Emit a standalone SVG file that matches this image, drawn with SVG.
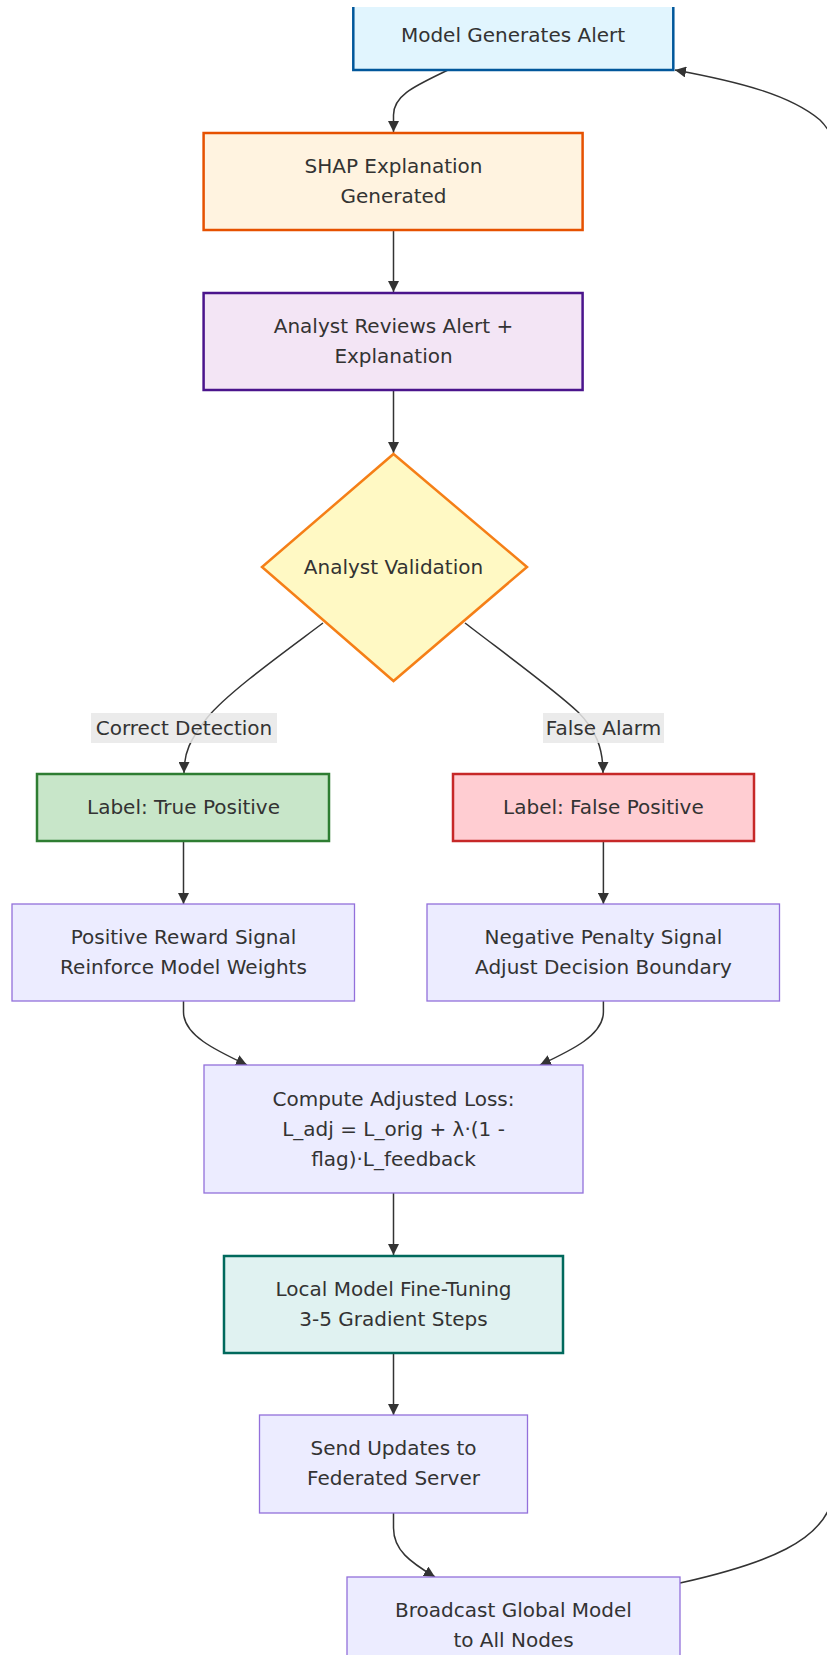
<svg xmlns="http://www.w3.org/2000/svg" width="827" height="1655" viewBox="0 0 827 1655">
<defs>
<style>
.t{font-family:"DejaVu Sans","Liberation Sans",sans-serif;font-size:20px;fill:#333333;text-anchor:middle;dominant-baseline:central}
.e{fill:none;stroke:#333333;stroke-width:1.5}
.def{fill:#ECECFF;stroke:#9370DB;stroke-width:1.3}
.lbl{fill:#E8E8E8;fill-opacity:0.85}
</style>
<marker id="arr" viewBox="0 0 10 10" refX="10" refY="5" markerWidth="11" markerHeight="11" markerUnits="userSpaceOnUse" orient="auto">
<path d="M0,0 L10,5 L0,10 z" fill="#333333"/>
</marker>
</defs>
<rect width="827" height="1655" fill="#ffffff"/>
<g id="connectors">
<path class="e" d="M448,70 C415,86 393.5,95 393.5,115 L393.5,132" marker-end="url(#arr)"/>
<path class="e" d="M393.5,230 L393.5,292" marker-end="url(#arr)"/>
<path class="e" d="M393.5,390 L393.5,453" marker-end="url(#arr)"/>
<path class="e" d="M323,623 C290,648 228,692 207,718 C190,740 184,752 184,773" marker-end="url(#arr)"/>
<path class="e" d="M465,623 C500,650 555,690 578,712 C596,730 603,748 603,773" marker-end="url(#arr)"/>
<path class="e" d="M183.5,842 L183.5,904" marker-end="url(#arr)"/>
<path class="e" d="M603.4,842 L603.4,904" marker-end="url(#arr)"/>
<path class="e" d="M183.5,1001 L183.5,1012 C183.5,1035 215,1050 247,1065" marker-end="url(#arr)"/>
<path class="e" d="M603.4,1001 L603.4,1012 C603.4,1035 572,1050 540,1065" marker-end="url(#arr)"/>
<path class="e" d="M393.5,1193 L393.5,1255" marker-end="url(#arr)"/>
<path class="e" d="M393.5,1353 L393.5,1415" marker-end="url(#arr)"/>
<path class="e" d="M393.5,1513 L393.5,1528 C393.5,1550 410,1562 435,1577" marker-end="url(#arr)"/>
<path class="e" d="M680,1583 C770,1563 822,1540 832,1500 C838,1470 840,1440 840,1400 L840,220 C840,150 835,135 820,120 C790,95 740,82 675,70" marker-end="url(#arr)"/>
<rect class="lbl" x="91" y="713" width="186" height="30"/>
<text class="t" x="184" y="728">Correct Detection</text>
<rect class="lbl" x="543" y="713" width="121" height="30"/>
<text class="t" x="603.5" y="728">False Alarm</text>
</g>
<g id="alert">
<rect x="353.3" y="7" width="320" height="63" fill="#E1F5FE"/>
<path d="M353.3,7 L353.3,70 L673.3,70 L673.3,7" fill="none" stroke="#01579B" stroke-width="2.5"/>
<text class="t" x="513" y="35">Model Generates Alert</text>
</g>
<g id="shap">
<rect x="203.6" y="133" width="379" height="97" fill="#FFF3E0" stroke="#E65100" stroke-width="2.5"/>
<text class="t" x="393.5" y="166">SHAP Explanation</text>
<text class="t" x="393.5" y="196">Generated</text>
</g>
<g id="review">
<rect x="203.6" y="293" width="379" height="97" fill="#F3E5F5" stroke="#4A148C" stroke-width="2.5"/>
<text class="t" x="393.5" y="326">Analyst Reviews Alert +</text>
<text class="t" x="393.5" y="356">Explanation</text>
</g>
<g id="validation">
<polygon points="393.5,454 527,567 393.5,681 262,567" fill="#FFF9C4" stroke="#F57F17" stroke-width="2.5"/>
<text class="t" x="393.5" y="567">Analyst Validation</text>
</g>
<g id="tp">
<rect x="37" y="774" width="292" height="67" fill="#C8E6C9" stroke="#2E7D32" stroke-width="2.5"/>
<text class="t" x="183.5" y="807">Label: True Positive</text>
</g>
<g id="fp">
<rect x="453" y="774" width="301" height="67" fill="#FFCDD2" stroke="#C62828" stroke-width="2.5"/>
<text class="t" x="603.4" y="807">Label: False Positive</text>
</g>
<g id="reward">
<rect class="def" x="12" y="904" width="342.5" height="97"/>
<text class="t" x="183.5" y="937">Positive Reward Signal</text>
<text class="t" x="183.5" y="967">Reinforce Model Weights</text>
</g>
<g id="penalty">
<rect class="def" x="427" y="904" width="352.5" height="97"/>
<text class="t" x="603.4" y="937">Negative Penalty Signal</text>
<text class="t" x="603.4" y="967">Adjust Decision Boundary</text>
</g>
<g id="loss">
<rect class="def" x="204" y="1065" width="379" height="128"/>
<text class="t" x="393.5" y="1099">Compute Adjusted Loss:</text>
<text class="t" x="393.5" y="1129">L_adj = L_orig + λ·(1 -</text>
<text class="t" x="393.5" y="1159">flag)·L_feedback</text>
</g>
<g id="finetune">
<rect x="224" y="1256" width="339" height="97" fill="#E0F2F1" stroke="#00695C" stroke-width="2.5"/>
<text class="t" x="393.5" y="1289">Local Model Fine-Tuning</text>
<text class="t" x="393.5" y="1319">3-5 Gradient Steps</text>
</g>
<g id="send">
<rect class="def" x="259.5" y="1415" width="268" height="98"/>
<text class="t" x="393.5" y="1448">Send Updates to</text>
<text class="t" x="393.5" y="1478">Federated Server</text>
</g>
<g id="broadcast">
<rect class="def" x="347" y="1577" width="333" height="100"/>
<text class="t" x="513.5" y="1610">Broadcast Global Model</text>
<text class="t" x="513.5" y="1640">to All Nodes</text>
</g>
</svg>
